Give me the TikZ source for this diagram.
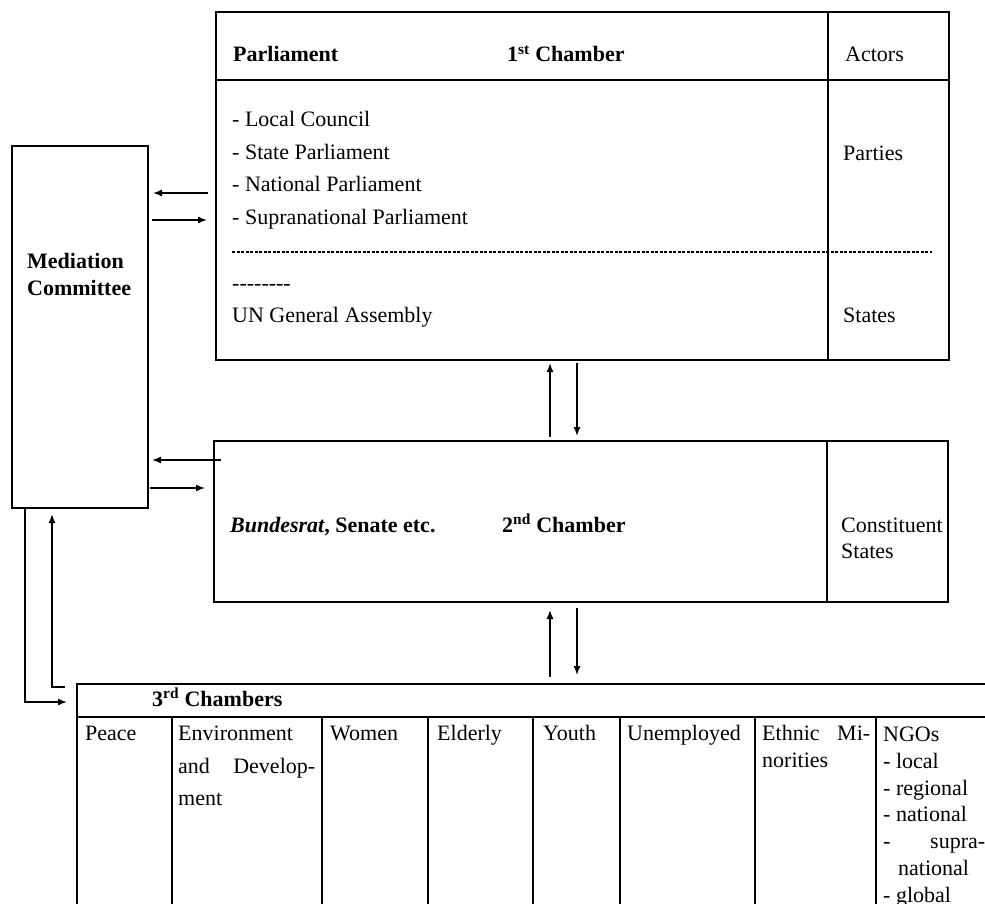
\documentclass[tikz,border=0pt]{standalone}
\usepackage{fontspec}
\setmainfont{Liberation Serif}
\usetikzlibrary{arrows.meta}
\begin{document}
\begin{tikzpicture}[x=1pt,y=-1pt,
  box/.style={draw, line width=1.6pt, anchor=north west, inner sep=0pt, outer sep=0pt},
  txt/.style={anchor=base west, inner sep=0pt, font=\fontsize{22}{26}\selectfont},
  btxt/.style={anchor=base west, inner sep=0pt, font=\fontsize{22}{26}\selectfont\bfseries},
  arr/.style={line width=1.4pt, -{Latex[length=9pt,width=7pt]}},
  rulel/.style={line width=1.6pt}]
\useasboundingbox (0,0) rectangle (985,904);
\clip (0,0) rectangle (985,904);
% helper coordinates
\coordinate (ya) at (0,193);
\coordinate (yb) at (0,220);
\coordinate (yc) at (0,460);
\coordinate (yd) at (0,488);
\coordinate (xu) at (550,0);
\coordinate (xd) at (577,0);
\coordinate (xo) at (25,0);
\coordinate (xi) at (52,0);
\coordinate (yo) at (0,702);
\coordinate (yi) at (0,687);

% ---------- 1st chamber ----------
\node[box, minimum width=733pt, minimum height=348pt] (box1) at (216,12) {};
\draw[rulel] (216,80) -- (949,80);
\draw[rulel] (828,12) -- (828,360);
\draw[line width=1.1pt, dash pattern=on 3pt off 1.5pt] (232,252) -- (932,252);
\node[btxt] (parl) at (233,62) {Parliament};
\node[btxt] (ch1) at (507,62) {1\textsuperscript{st} Chamber};
\node[txt] (act) at (845,62) {Actors};
\node[txt] (l1) at (232,127) {- Local Council};
\node[txt] (l2) at (232,160) {- State Parliament};
\node[txt] (l3) at (232,192) {- National Parliament};
\node[txt] (l4) at (232,225) {- Supranational Parliament};
\node[txt] (par) at (843,161) {Parties};
\node[txt] (dsh) at (232,290) {-{}-{}-{}-{}-{}-{}-{}-};
\node[txt] (un) at (232,322) {UN General Assembly};
\node[txt] (sts) at (843,322) {States};

% ---------- Mediation committee ----------
\node[box, minimum width=136pt, minimum height=362pt] (med) at (12,146) {};
\node[btxt] (m1) at (27,269) {Mediation};
\node[btxt] (m2) at (27,295) {Committee};

% ---------- 2nd chamber ----------
\node[box, minimum width=734pt, minimum height=161pt] (box2) at (214,441) {};
\draw[rulel] (827,441) -- (827,602);
\node[btxt] (bund) at (230,532) {\textit{Bundesrat}, Senate etc.};
\node[btxt] (ch2) at (502,532) {2\textsuperscript{nd} Chamber};
\node[txt] (cons1) at (841,532) {Constituent};
\node[txt] (cons2) at (841,558) {States};

% ---------- 3rd chambers ----------
\node[box, minimum width=913pt, minimum height=33pt] (hdr) at (77,684) {};
\node[box, minimum width=913pt, minimum height=200pt] (tbody) at (77,717) {};
\foreach \cx in {172,322,428,533,620,755,876}
  \draw[rulel] (\cx,717) -- (\cx,917);
\node[btxt] (ch3) at (152,706) {3\textsuperscript{rd} Chambers};
\node[txt] (c1) at (85,740) {Peace};
\node[txt] (c2a) at (178,740) {Environment};
\node[txt] (c2b) at (178,773) {\hbox to 137pt{and\hfill Develop-}};
\node[txt] (c2c) at (178,805) {ment};
\node[txt] (c3) at (330,740) {Women};
\node[txt] (c4) at (437,740) {Elderly};
\node[txt] (c5) at (543,740) {Youth};
\node[txt] (c6) at (627,740) {Unemployed};
\node[txt] (c7a) at (762,740) {\hbox to 108pt{Ethnic\hfill Mi-}};
\node[txt] (c7b) at (762,767) {norities};
\node[txt] (c8a) at (883,741) {NGOs};
\node[txt] (c8b) at (883,768) {- local};
\node[txt] (c8c) at (883,795) {- regional};
\node[txt] (c8d) at (883,821) {- national};
\node[txt] (c8e) at (883,848) {\hbox to 102pt{-\hfill supra-}};
\node[txt] (c8f) at (898,875) {national};
\node[txt] (c8g) at (883,902) {- global};

% ---------- connectors ----------
\draw[arr, shorten <=8pt, shorten >=5pt] (box1.west |- ya) -- (med.east |- ya);
\draw[arr, shorten <=4pt, shorten >=9pt] (med.east |- yb) -- (box1.west |- yb);
\draw[arr, shorten <=-7pt, shorten >=4pt] (box2.west |- yc) -- (med.east |- yc);
\draw[arr, shorten <=2pt, shorten >=9pt] (med.east |- yd) -- (box2.west |- yd);

\draw[arr, shorten <=4pt, shorten >=3pt] (box2.north -| xu) -- (box1.south -| xu);
\draw[arr, shorten <=3pt, shorten >=5pt] (box1.south -| xd) -- (box2.north -| xd);
\draw[arr, shorten <=7pt, shorten >=8pt] (hdr.north -| xu) -- (box2.south -| xu);
\draw[arr, shorten <=6pt, shorten >=9pt] (box2.south -| xd) -- (hdr.north -| xd);

\draw[arr, shorten >=10pt] (med.south -| xo) |- (hdr.west |- yo);
\draw[arr, shorten <=12pt, shorten >=6pt] (hdr.west |- yi) -| (med.south -| xi);
\end{tikzpicture}
\end{document}
